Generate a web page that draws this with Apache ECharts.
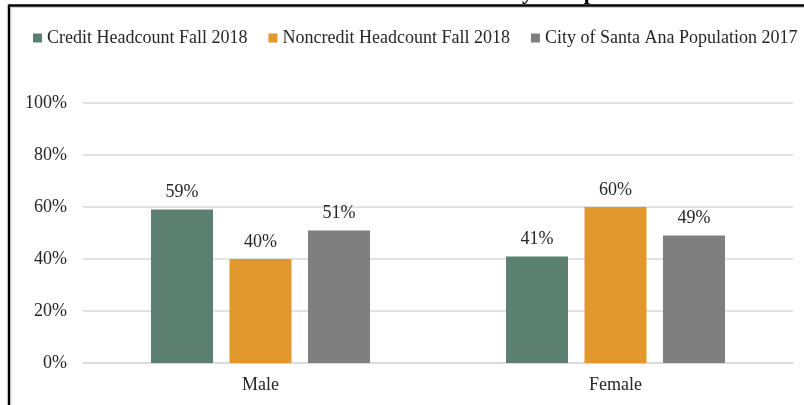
<!DOCTYPE html>
<html><head><meta charset="utf-8">
<script src="https://cdn.jsdelivr.net/npm/echarts@6/dist/echarts.min.js"></script>
<style>html,body{margin:0;padding:0;background:#fff}#c{width:804px;height:405px}</style>
</head><body><div id="c"></div>
<script>
const categories = ['Male', 'Female'];
const seriesNames = ['Credit Headcount Fall 2018', 'Noncredit Headcount Fall 2018', 'City of Santa Ana Population 2017'];
const creditValues = [59, 41];
const noncreditValues = [40, 60];
const cityValues = [51, 49];
const yTicks = [0, 20, 40, 60, 80, 100];
const titleText = 'Gender Distribution by Comparison';

const colors = ['#5B7F70', '#E2972C', '#7F7F7F'];
const font = 'Liberation Serif, Times New Roman, serif';
const chart = echarts.init(document.getElementById('c'), null, {renderer: 'canvas'});
const mk = (name, data, i) => ({
  name, type: 'bar', data, barWidth: 62, barGap: '26.6%',
  itemStyle: {color: colors[i]},
  label: {show: true, position: 'top', distance: 8, formatter: p => p.value + '%',
    fontFamily: font, fontSize: 18, color: '#262626'}
});
chart.setOption({
  animation: false,
  color: colors,
  graphic: [
    {type: 'text', left: 313, top: -18, style: {text: titleText, font: 'bold 22px ' + font, fill: '#000'}},
    {type: 'line', shape: {x1: 9, y1: 5.5, x2: 804, y2: 5.5}, style: {stroke: '#000', lineWidth: 2.5}},
    {type: 'line', shape: {x1: 11, y1: 7.5, x2: 804, y2: 7.5}, style: {stroke: '#d0d0d0', lineWidth: 1}},
    {type: 'line', shape: {x1: 9, y1: 4.5, x2: 9, y2: 405}, style: {stroke: '#000', lineWidth: 2.5}},
    {type: 'line', shape: {x1: 11, y1: 7, x2: 11, y2: 405}, style: {stroke: '#d0d0d0', lineWidth: 1}}
  ],
  legend: {
    left: 33, top: 29, width: 900, padding: 0, icon: 'rect', itemWidth: 9, itemHeight: 9, itemGap: 21,
    textStyle: {fontFamily: font, fontSize: 18, color: '#262626', padding: [0, 0, 0, 0]},
    data: seriesNames
  },
  grid: {left: 83, right: 11, top: 103, bottom: 42, containLabel: false},
  xAxis: {
    type: 'category', data: categories,
    axisLine: {lineStyle: {color: '#d9d9d9', width: 1.5}}, axisTick: {show: false},
    axisLabel: {fontFamily: font, fontSize: 18, color: '#262626', margin: 13}
  },
  yAxis: {
    type: 'value', min: yTicks[0], max: yTicks[yTicks.length - 1], interval: 20,
    axisLine: {show: false}, axisTick: {show: false},
    splitLine: {lineStyle: {color: '#d9d9d9', width: 1.5}},
    axisLabel: {fontFamily: font, fontSize: 18, color: '#262626', margin: 16, formatter: v => v + '%'}
  },
  series: [mk(seriesNames[0], creditValues, 0), mk(seriesNames[1], noncreditValues, 1), mk(seriesNames[2], cityValues, 2)]
});
</script></body></html>
